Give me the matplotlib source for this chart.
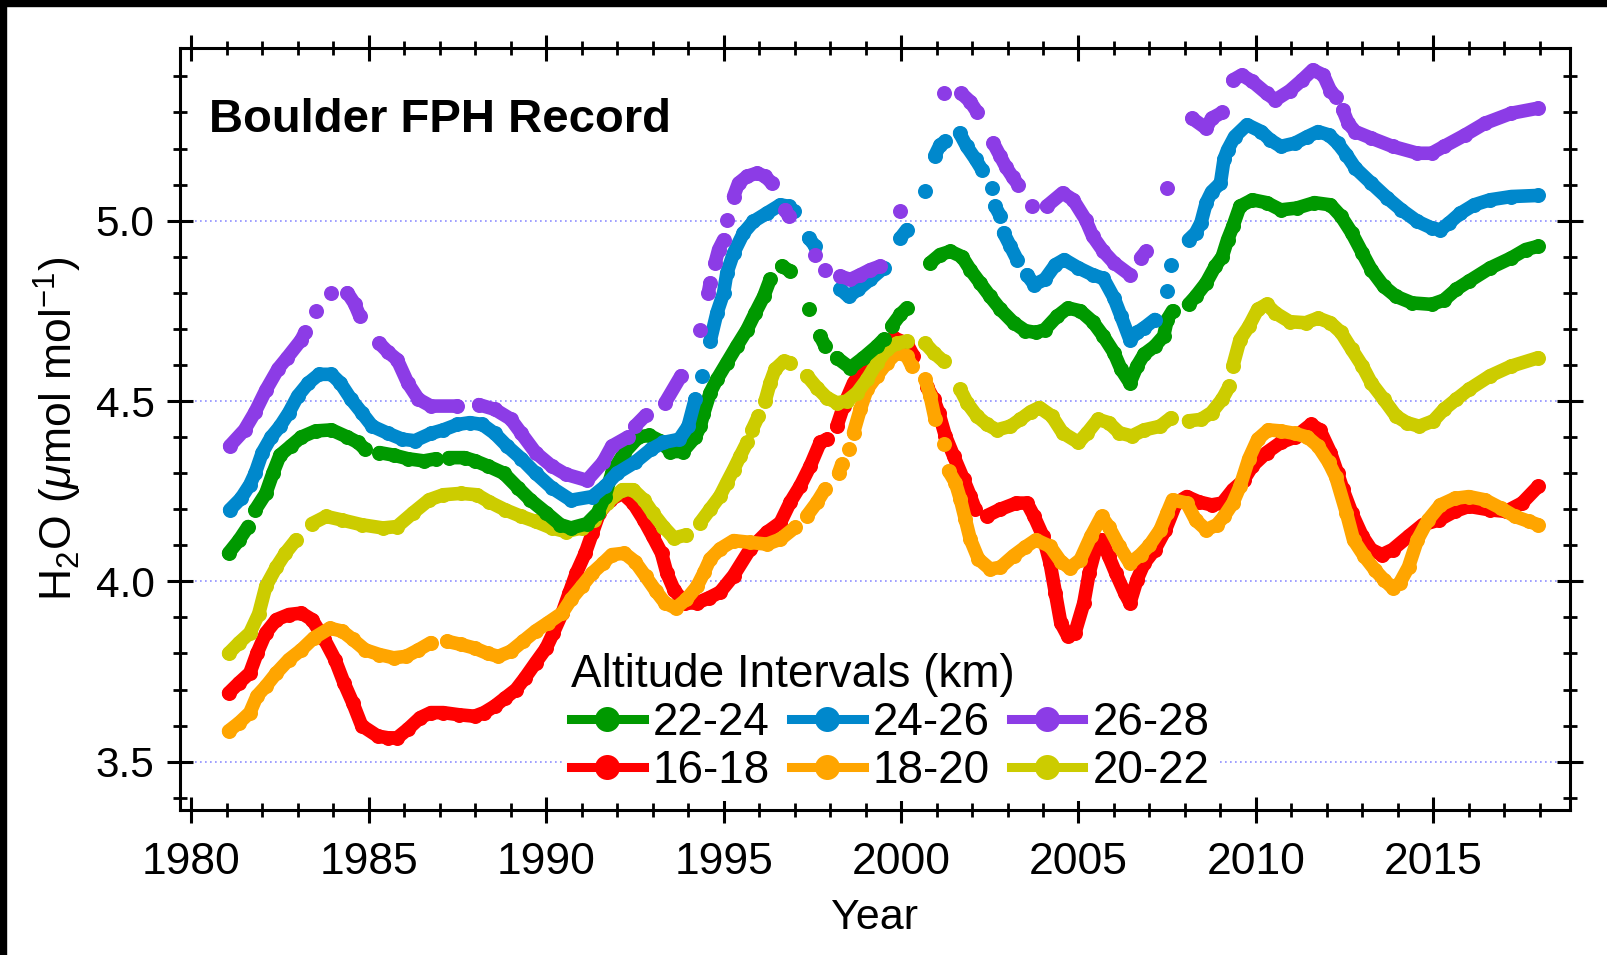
import numpy as np
import matplotlib
matplotlib.use('Agg')
import matplotlib.pyplot as plt
from matplotlib.lines import Line2D
from matplotlib.patches import Rectangle
from matplotlib.ticker import MultipleLocator

nan = np.nan

plt.rcParams['font.family'] = ['Liberation Sans', 'DejaVu Sans']
plt.rcParams['mathtext.fontset'] = 'custom'
plt.rcParams['mathtext.rm'] = 'Liberation Sans'
plt.rcParams['mathtext.it'] = 'Liberation Sans:italic'
plt.rcParams['mathtext.bf'] = 'Liberation Sans:bold'

# ---------------- data ----------------
years_16_18 = [1981.05, 1981.35, 1981.65, 1981.85, 1982.1, 1982.4, 1982.75, 1983.1, 1983.4, 1983.75,
               1984.05, 1984.3, 1984.55, 1984.8, 1985.25, 1985.55, 1985.8, 1986.1, 1986.45, 1986.75,
               1987.1, 1987.55, 1987.98, 1988.25, 1988.55, 1988.85, 1989.15, 1989.4, 1989.7, 1990.0,
               1990.2, 1990.45, 1990.65, 1990.85, 1991.1, 1991.3, 1991.5, 1991.8, 1992.15, 1992.45,
               1992.75, 1993.0, 1993.25, 1993.4, 1993.6, 1993.9, 1994.25, 1994.6, 1994.9, 1995.28,
               1995.75, 1996.22, 1996.6, 1996.88, 1997.16, 1997.44, 1997.72, 1997.91, nan, 1998.19,
               1998.38, 1998.66, 1999.04, 1999.41, 1999.79, 2000.16, 2000.35, nan, 2000.73, 2000.92,
               2001.06, 2001.25, 2001.48, 2001.76, 2001.95, 2002.09, nan, 2002.42, 2002.8, 2003.25,
               2003.55, 2003.75, 2004.0, 2004.2, 2004.35, 2004.5, 2004.7, 2004.9, 2005.15, 2005.3,
               2005.5, 2005.65, 2005.85, 2006.05, 2006.3, 2006.45, 2006.65, 2006.85, 2007.15, 2007.45,
               2007.75, 2008.05, 2008.4, 2008.75, 2009.05, 2009.35, 2009.65, 2009.9, 2010.3, 2010.7,
               2011.1, 2011.55, 2011.8, 2012.1, 2012.3, 2012.45, 2012.7, 2013.0, 2013.25, 2013.55,
               2013.85, 2014.3, 2014.7, 2015.15, 2015.6, 2016.0, 2016.6, 2017.05, 2017.5, 2017.95]
h2o_16_18 = [3.690, 3.719, 3.746, 3.800, 3.857, 3.894, 3.908, 3.912, 3.894, 3.839,
             3.783, 3.719, 3.663, 3.600, 3.571, 3.566, 3.566, 3.590, 3.622, 3.636,
             3.636, 3.630, 3.626, 3.636, 3.654, 3.677, 3.700, 3.732, 3.774, 3.815,
             3.857, 3.912, 3.968, 4.023, 4.078, 4.134, 4.190, 4.226, 4.244, 4.217,
             4.170, 4.125, 4.078, 4.023, 3.977, 3.940, 3.940, 3.955, 3.970, 4.016,
             4.090, 4.136, 4.163, 4.220, 4.265, 4.320, 4.385, 4.394, nan, 4.430,
             4.486, 4.550, 4.606, 4.652, 4.675, 4.660, 4.625, nan, 4.540, 4.505,
             4.468, 4.403, 4.348, 4.283, 4.237, 4.200, nan, 4.182, 4.200, 4.217,
             4.217, 4.180, 4.125, 4.050, 3.968, 3.885, 3.848, 3.857, 3.940, 4.023,
             4.097, 4.115, 4.070, 4.023, 3.968, 3.940, 4.005, 4.050, 4.088, 4.143,
             4.217, 4.235, 4.220, 4.212, 4.217, 4.254, 4.280, 4.320, 4.357, 4.385,
             4.400, 4.435, 4.420, 4.357, 4.300, 4.255, 4.190, 4.125, 4.088, 4.074,
             4.088, 4.125, 4.157, 4.170, 4.194, 4.208, 4.198, 4.194, 4.217, 4.263]

years_18_20 = [1981.05, 1981.35, 1981.65, 1981.85, 1982.1, 1982.4, 1982.75, 1983.1, 1983.45, 1983.9,
               1984.25, 1984.55, 1984.9, 1985.3, 1985.7, 1986.05, 1986.4, 1986.75, nan, 1987.2,
               1987.6, 1987.98, 1988.35, 1988.65, 1989.0, 1989.35, 1989.7, 1990.05, 1990.45, 1990.7,
               1991.0, 1991.3, 1991.6, 1991.85, 1992.2, 1992.5, 1992.8, 1993.1, 1993.35, 1993.65,
               1993.95, 1994.25, 1994.45, 1994.62, 1994.9, 1995.28, 1995.75, 1996.22, 1996.6, 1997.02,
               nan, 1997.35, 1997.63, 1997.86, nan, 1998.24, 1998.33, nan, 1998.52, nan,
               1998.66, 1998.85, 1999.04, 1999.32, 1999.6, 1999.88, 2000.16, 2000.3, nan, 2000.68,
               2000.82, 2000.96, nan, 2001.2, nan, 2001.34, 2001.53, 2001.67, 2001.81, 2001.95,
               2002.18, 2002.51, 2002.8, 2003.17, 2003.5, 2003.8, 2004.2, 2004.5, 2004.75, 2005.05,
               2005.35, 2005.65, 2005.85, 2006.15, 2006.45, 2006.75, 2007.0, 2007.3, 2007.5, 2007.65,
               2008.05, 2008.3, 2008.6, 2008.9, 2009.1, 2009.35, 2009.55, 2009.8, 2010.05, 2010.35,
               2010.7, 2011.1, 2011.45, 2011.75, 2012.05, 2012.25, 2012.55, 2012.75, 2013.05, 2013.35,
               2013.6, 2013.85, 2014.05, 2014.3, 2014.55, 2014.85, 2015.2, 2015.6, 2016.0, 2016.45,
               2016.9, 2017.3, 2017.7, 2017.95]
h2o_18_20 = [3.585, 3.608, 3.636, 3.682, 3.709, 3.746, 3.783, 3.810, 3.843, 3.870,
             3.862, 3.839, 3.810, 3.797, 3.788, 3.792, 3.810, 3.830, nan, 3.834,
             3.825, 3.815, 3.800, 3.792, 3.806, 3.834, 3.862, 3.885, 3.912, 3.950,
             3.986, 4.023, 4.050, 4.074, 4.078, 4.055, 4.014, 3.972, 3.940, 3.926,
             3.950, 3.986, 4.025, 4.062, 4.090, 4.113, 4.108, 4.103, 4.117, 4.150,
             nan, 4.182, 4.219, 4.256, nan, 4.300, 4.325, nan, 4.366, nan,
             4.412, 4.477, 4.532, 4.570, 4.606, 4.634, 4.625, 4.597, nan, 4.560,
             4.514, 4.450, nan, 4.380, nan, 4.306, 4.274, 4.228, 4.172, 4.117,
             4.062, 4.034, 4.039, 4.071, 4.095, 4.115, 4.097, 4.055, 4.037, 4.060,
             4.125, 4.180, 4.152, 4.097, 4.050, 4.074, 4.100, 4.143, 4.190, 4.226,
             4.217, 4.170, 4.143, 4.157, 4.180, 4.217, 4.263, 4.340, 4.394, 4.420,
             4.417, 4.410, 4.400, 4.375, 4.330, 4.290, 4.190, 4.115, 4.070, 4.032,
             4.005, 3.982, 3.995, 4.040, 4.115, 4.170, 4.212, 4.230, 4.235, 4.226,
             4.203, 4.180, 4.166, 4.157]

years_20_22 = [1981.05, 1981.35, 1981.65, 1981.9, 1982.1, 1982.4, 1982.65, 1982.95, nan, 1983.4,
               1983.8, 1984.25, 1984.8, 1985.4, 1985.8, 1986.25, 1986.7, 1987.1, 1987.6, 1988.05,
               1988.4, 1988.85, 1989.3, 1989.7, 1990.15, 1990.55, 1991.0, 1991.35, 1991.7, 1992.15,
               1992.45, 1992.75, 1993.0, 1993.3, 1993.6, 1993.95, nan, 1994.34, 1994.62, 1994.9,
               1995.09, 1995.28, 1995.47, 1995.66, nan, 1995.8, 1995.98, nan, 1996.17, 1996.31,
               1996.45, 1996.69, 1996.88, nan, 1997.35, 1997.63, 1997.91, 1998.19, 1998.47, 1998.76,
               1999.04, 1999.32, 1999.6, 1999.88, 2000.16, nan, 2000.68, 2000.92, 2001.2, nan,
               2001.67, 2001.86, 2002.14, 2002.42, 2002.7, 2003.08, 2003.36, 2003.65, 2003.9, 2004.25,
               2004.55, 2005.0, 2005.25, 2005.55, 2005.85, 2006.15, 2006.5, 2006.85, 2007.3, 2007.6,
               nan, 2008.1, 2008.45, 2008.75, 2009.05, 2009.25, nan, 2009.35, 2009.55, 2009.8,
               2010.05, 2010.3, 2010.55, 2010.95, 2011.4, 2011.75, 2012.1, 2012.4, 2012.7, 2013.0,
               2013.25, 2013.6, 2013.95, 2014.25, 2014.6, 2015.0, 2015.3, 2015.65, 2016.0, 2016.6,
               2017.2, 2017.95]
h2o_20_22 = [3.800, 3.830, 3.857, 3.910, 3.986, 4.040, 4.078, 4.115, nan, 4.160,
             4.180, 4.170, 4.157, 4.148, 4.152, 4.190, 4.226, 4.240, 4.244, 4.240,
             4.220, 4.198, 4.180, 4.166, 4.148, 4.138, 4.148, 4.170, 4.217, 4.254,
             4.254, 4.226, 4.190, 4.152, 4.120, 4.129, nan, 4.163, 4.200, 4.237,
             4.274, 4.310, 4.348, 4.385, nan, 4.420, 4.458, nan, 4.500, 4.550,
             4.588, 4.610, 4.606, nan, 4.570, 4.537, 4.509, 4.495, 4.500, 4.523,
             4.560, 4.606, 4.643, 4.660, 4.666, nan, 4.660, 4.634, 4.610, nan,
             4.532, 4.495, 4.458, 4.435, 4.420, 4.430, 4.449, 4.470, 4.482, 4.458,
             4.412, 4.385, 4.412, 4.449, 4.440, 4.412, 4.403, 4.420, 4.430, 4.453,
             nan, 4.445, 4.449, 4.468, 4.505, 4.541, nan, 4.597, 4.670, 4.707,
             4.754, 4.768, 4.744, 4.720, 4.717, 4.730, 4.717, 4.690, 4.643, 4.597,
             4.550, 4.505, 4.458, 4.440, 4.430, 4.445, 4.477, 4.505, 4.532, 4.570,
             4.597, 4.620]

years_22_24 = [1981.05, 1981.35, 1981.6, nan, 1981.8, 1982.1, 1982.3, 1982.5, 1982.8, 1983.1,
               1983.5, 1983.95, 1984.4, 1984.7, 1984.9, nan, 1985.3, 1985.7, 1986.1, 1986.55,
               1986.9, nan, 1987.25, 1987.7, 1988.0, 1988.35, 1988.8, 1989.2, 1989.55, 1990.0,
               1990.4, 1990.7, 1991.15, 1991.45, 1991.65, 1991.85, 1992.2, 1992.6, 1992.9, 1993.2,
               1993.5, 1993.85, 1994.2, 1994.34, 1994.43, 1994.62, 1994.81, 1995.09, 1995.37, 1995.66,
               1995.89, 1996.13, 1996.31, nan, 1996.64, 1996.88, nan, 1997.4, nan, 1997.72,
               1997.86, nan, 1998.19, 1998.57, 1998.94, 1999.32, 1999.51, nan, 1999.74, 1999.98,
               2000.16, nan, 2000.82, 2001.1, 2001.39, 2001.72, 2001.95, 2002.23, 2002.51, 2002.8,
               2003.17, 2003.5, 2003.8, 2004.05, 2004.4, 2004.7, 2005.05, 2005.4, 2005.7, 2006.0,
               2006.2, 2006.45, 2006.65, 2006.85, 2007.15, 2007.4, 2007.5, 2007.65, nan, 2008.1,
               2008.3, 2008.6, 2008.85, 2009.05, 2009.2, 2009.35, 2009.55, 2009.9, 2010.3, 2010.7,
               2011.15, 2011.65, 2012.1, 2012.4, 2012.7, 2013.0, 2013.25, 2013.6, 2013.95, 2014.4,
               2014.95, 2015.3, 2015.65, 2016.0, 2016.6, 2017.2, 2017.6, 2017.95]
h2o_22_24 = [4.078, 4.115, 4.152, nan, 4.198, 4.244, 4.300, 4.350, 4.375, 4.400,
             4.417, 4.420, 4.400, 4.385, 4.366, nan, 4.357, 4.350, 4.340, 4.334,
             4.340, nan, 4.343, 4.343, 4.334, 4.320, 4.300, 4.260, 4.226, 4.190,
             4.157, 4.148, 4.160, 4.190, 4.235, 4.300, 4.357, 4.400, 4.405, 4.390,
             4.360, 4.360, 4.400, 4.430, 4.463, 4.523, 4.560, 4.606, 4.652, 4.698,
             4.744, 4.790, 4.837, nan, 4.874, 4.860, nan, 4.754, nan, 4.680,
             4.652, nan, 4.620, 4.592, 4.620, 4.652, 4.671, nan, 4.708, 4.740,
             4.758, nan, 4.883, 4.906, 4.915, 4.900, 4.864, 4.827, 4.790, 4.754,
             4.717, 4.695, 4.690, 4.698, 4.735, 4.758, 4.750, 4.720, 4.680, 4.634,
             4.588, 4.550, 4.597, 4.630, 4.652, 4.680, 4.726, 4.750, nan, 4.768,
             4.790, 4.828, 4.873, 4.900, 4.947, 4.984, 5.040, 5.058, 5.050, 5.030,
             5.035, 5.050, 5.044, 5.012, 4.966, 4.910, 4.864, 4.818, 4.790, 4.772,
             4.768, 4.780, 4.810, 4.832, 4.869, 4.897, 4.920, 4.929]

years_24_26 = [1981.08, 1981.4, 1981.65, 1981.8, 1982.0, 1982.25, 1982.5, 1982.75, 1983.0, 1983.3,
               1983.6, 1983.95, 1984.2, 1984.5, 1984.8, 1985.1, 1985.55, 1985.95, 1986.3, 1986.75,
               1987.1, 1987.5, 1987.85, 1988.2, 1988.55, 1988.9, 1989.3, 1989.7, 1990.15, 1990.7,
               1991.3, 1991.65, 1992.0, 1992.5, 1992.95, 1993.3, 1993.75, 1994.0, 1994.2, nan,
               1994.4, nan, 1994.62, 1994.81, 1995.0, 1995.09, 1995.28, 1995.56, 1995.84, 1996.22,
               1996.6, 1996.83, 1996.97, nan, 1997.4, 1997.58, nan, 1998.29, 1998.52, 1998.8,
               1999.13, 1999.51, nan, 1999.98, 2000.16, nan, 2000.68, nan, 2000.95, 2001.1,
               2001.25, nan, 2001.65, 2001.85, 2002.1, 2002.28, nan, 2002.56, nan, 2002.65,
               2002.8, nan, 2002.89, 2003.08, 2003.27, nan, 2003.55, 2003.75, 2004.05, 2004.35,
               2004.6, 2005.0, 2005.4, 2005.7, 2006.0, 2006.2, 2006.45, 2006.65, 2006.85, 2007.15,
               nan, 2007.5, nan, 2007.6, nan, 2008.1, 2008.3, 2008.45, 2008.6, 2008.75,
               2009.0, 2009.1, 2009.2, 2009.4, 2009.75, 2010.15, 2010.4, 2010.7, 2011.1, 2011.45,
               2011.75, 2012.05, 2012.3, 2012.55, 2012.8, 2013.25, 2013.7, 2014.1, 2014.55, 2014.95,
               2015.2, 2015.45, 2015.75, 2016.15, 2016.6, 2017.2, 2017.95]
h2o_24_26 = [4.198, 4.230, 4.268, 4.300, 4.357, 4.400, 4.430, 4.468, 4.514, 4.550,
             4.574, 4.574, 4.550, 4.505, 4.468, 4.430, 4.410, 4.394, 4.390, 4.410,
             4.420, 4.435, 4.440, 4.435, 4.410, 4.375, 4.340, 4.300, 4.260, 4.225,
             4.235, 4.263, 4.300, 4.330, 4.366, 4.385, 4.394, 4.430, 4.505, nan,
             4.570, nan, 4.666, 4.744, 4.800, 4.855, 4.910, 4.966, 4.998, 5.021,
             5.044, 5.040, 5.026, nan, 4.952, 4.929, nan, 4.810, 4.790, 4.810,
             4.837, 4.869, nan, 4.952, 4.975, nan, 5.081, nan, 5.180, 5.210,
             5.220, nan, 5.243, 5.206, 5.170, 5.141, nan, 5.090, nan, 5.040,
             5.012, nan, 4.966, 4.929, 4.892, nan, 4.850, 4.823, 4.837, 4.878,
             4.892, 4.869, 4.850, 4.840, 4.786, 4.735, 4.670, 4.690, 4.703, 4.726,
             nan, 4.804, nan, 4.878, nan, 4.947, 4.966, 4.994, 5.050, 5.080,
             5.104, 5.170, 5.196, 5.233, 5.266, 5.247, 5.224, 5.206, 5.215, 5.233,
             5.247, 5.238, 5.215, 5.183, 5.146, 5.104, 5.063, 5.030, 4.998, 4.980,
             4.975, 4.994, 5.020, 5.044, 5.058, 5.067, 5.070]

years_26_28 = [1981.08, 1981.5, 1981.8, 1982.1, 1982.45, 1982.7, 1983.1, 1983.2, nan, 1983.5,
               nan, 1983.95, nan, 1984.4, 1984.6, 1984.75, nan, 1985.3, 1985.55, 1985.8,
               1986.1, 1986.4, 1986.75, 1987.5, nan, 1988.1, 1988.55, 1989.0, 1989.3, 1989.7,
               1990.15, 1990.55, 1991.15, 1991.6, 1991.85, 1992.3, nan, 1992.5, 1992.8, nan,
               1993.35, 1993.8, nan, 1994.34, nan, 1994.57, 1994.62, nan, 1994.76, 1994.86,
               1995.0, nan, 1995.09, nan, 1995.28, 1995.42, 1995.66, 1995.94, 1996.17, 1996.36,
               nan, 1996.74, 1996.83, nan, 1997.58, nan, 1997.86, nan, 1998.29, 1998.57,
               1998.85, 1999.13, 1999.41, nan, 1999.98, nan, 2001.2, nan, 2001.7, 2001.95,
               2002.15, nan, 2002.6, 2002.8, 2002.95, 2003.15, 2003.3, nan, 2003.7, nan,
               2004.1, 2004.55, 2004.85, 2005.2, 2005.4, 2005.7, 2006.0, 2006.45, nan, 2006.75,
               2006.9, nan, 2007.5, nan, 2008.2, 2008.6, 2008.75, 2009.05, nan, 2009.35,
               2009.6, 2009.9, 2010.3, 2010.55, 2010.95, 2011.3, 2011.6, 2011.9, 2012.1, 2012.25,
               nan, 2012.45, 2012.6, 2012.8, 2013.25, 2013.85, 2014.55, 2014.95, 2015.3, 2015.9,
               2016.45, 2017.2, 2017.95]
h2o_26_28 = [4.375, 4.420, 4.470, 4.530, 4.590, 4.620, 4.670, 4.690, nan, 4.750,
             nan, 4.800, nan, 4.800, 4.770, 4.735, nan, 4.660, 4.635, 4.615,
             4.550, 4.505, 4.486, 4.486, nan, 4.490, 4.477, 4.450, 4.410, 4.357,
             4.320, 4.297, 4.280, 4.330, 4.375, 4.400, nan, 4.430, 4.460, nan,
             4.495, 4.570, nan, 4.698, nan, 4.800, 4.827, nan, 4.883, 4.920,
             4.947, nan, 5.003, nan, 5.067, 5.104, 5.123, 5.132, 5.123, 5.104,
             nan, 5.030, 5.012, nan, 4.906, nan, 4.864, nan, 4.846, 4.837,
             4.850, 4.864, 4.874, nan, 5.026, nan, 5.353, nan, 5.353, 5.330,
             5.300, nan, 5.215, 5.178, 5.150, 5.120, 5.100, nan, 5.040, nan,
             5.040, 5.077, 5.058, 5.003, 4.957, 4.915, 4.883, 4.850, nan, 4.897,
             4.915, nan, 5.090, nan, 5.284, 5.256, 5.284, 5.300, nan, 5.390,
             5.404, 5.386, 5.353, 5.335, 5.360, 5.390, 5.418, 5.404, 5.360, 5.344,
             nan, 5.307, 5.270, 5.247, 5.229, 5.206, 5.187, 5.187, 5.206, 5.238,
             5.270, 5.298, 5.312]

series_labels = ['16-18', '18-20', '20-22', '22-24', '24-26', '26-28']
series_colors = ['#ff0000', '#ffa500', '#cccc00', '#009900', '#0088cc', '#8c3ce6']
series_years = [years_16_18, years_18_20, years_20_22, years_22_24, years_24_26, years_26_28]
series_h2o = [h2o_16_18, h2o_18_20, h2o_20_22, h2o_22_24, h2o_24_26, h2o_26_28]
legend_order = ['22-24', '16-18', '24-26', '18-20', '26-28', '20-22']

x_major_ticks = [1980, 1985, 1990, 1995, 2000, 2005, 2010, 2015]
y_major_ticks = [3.5, 4.0, 4.5, 5.0]

# ---------------- figure ----------------
W, H = 1608, 955
fig = plt.figure(figsize=(W / 100, H / 100), dpi=100)
fig.patch.set_facecolor('white')

ax_l, ax_r, ax_t, ax_b = 179.6, 1570.0, 48.3, 810.0
ax = fig.add_axes([ax_l / W, 1 - ax_b / H, (ax_r - ax_l) / W, (ax_b - ax_t) / H])

for yrs, vals, col in zip(series_years, series_h2o, series_colors):
    ax.plot(yrs, vals, color=col, lw=9.8, marker='o', ms=10.8, mew=0,
            solid_capstyle='round', solid_joinstyle='round', zorder=3)

ax.set_xlim(1979.67, 2018.85)
ax.set_ylim(3.366, 5.478)
ax.set_xticks(x_major_ticks)
ax.set_yticks(y_major_ticks)
ax.xaxis.set_minor_locator(MultipleLocator(1))
ax.yaxis.set_minor_locator(MultipleLocator(0.1))
ax.set_xticklabels([str(t) for t in x_major_ticks])
ax.set_yticklabels([f'{t:.1f}' for t in y_major_ticks])

for s in ax.spines.values():
    s.set_linewidth(2.2)
ax.tick_params(which='major', direction='inout', length=19, width=2.2,
               top=True, right=True, colors='black')
ax.tick_params(which='minor', direction='inout', length=9.5, width=2.0,
               top=True, right=True)
ax.tick_params(axis='x', which='major', labelsize=32, pad=13.5)
ax.tick_params(axis='y', which='major', labelsize=30.5, pad=8.5)

ax.yaxis.grid(True, which='major', linestyle=(0, (1, 2)), color='#8f8fff', linewidth=1.2)
ax.set_axisbelow(True)

ax.set_xlabel('Year', fontsize=31, labelpad=11)
ax.set_ylabel(r'H$_2$O ($\mu$mol mol$^{-1}$)', fontsize=32, labelpad=8)

ax.text((209 - ax_l) / (ax_r - ax_l), (ax_b - 132) / (ax_b - ax_t), 'Boulder FPH Record',
        transform=ax.transAxes, fontsize=34, fontweight='bold', ha='left', va='baseline')

handles = []
for lab in legend_order:
    col = series_colors[series_labels.index(lab)]
    handles.append(Line2D([], [], color=col, lw=6.5, marker='o', ms=18, mew=0, label=lab))
leg = ax.legend(handles=handles, ncol=3, loc='lower left',
                bbox_to_anchor=((563 - ax_l) / (ax_r - ax_l), (ax_b - 801) / (ax_b - ax_t)),
                borderaxespad=0, borderpad=0.18, fontsize=33, title='Altitude Intervals (km)',
                title_fontsize=33, handlelength=1.58, handletextpad=0.2, columnspacing=0.46,
                labelspacing=0.09, frameon=True, fancybox=False, framealpha=1,
                alignment='left', numpoints=1)
leg.get_frame().set_edgecolor('none')
leg.get_frame().set_facecolor('white')
leg.set_zorder(6)

# black edge bands of the original picture
fig.add_artist(Rectangle((0, 1 - 6 / H), 1, 6 / H, transform=fig.transFigure,
                         color='black', zorder=10))
fig.add_artist(Rectangle((0, 0), 6 / W, 1, transform=fig.transFigure,
                         color='black', zorder=10))

fig.savefig('out.png', dpi=100)
